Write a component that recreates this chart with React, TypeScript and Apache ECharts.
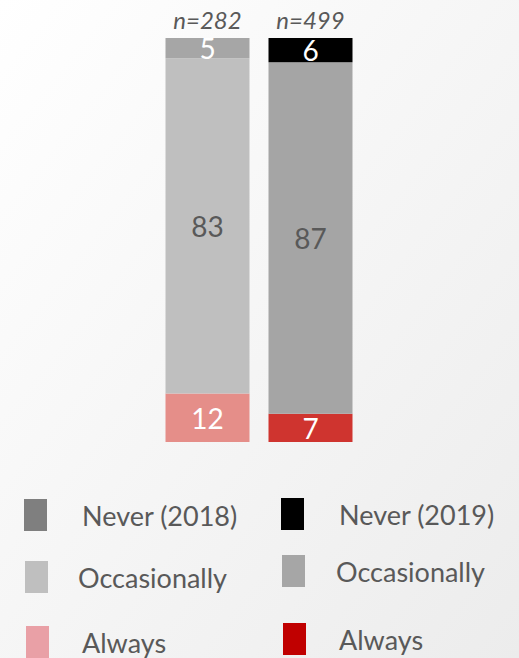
import React, { useEffect, useRef } from "react";
import * as echarts from "echarts";

const categories = ["2018", "2019"];
const nLabels = ["n=282", "n=499"];
const alwaysValues = [12, 7];
const occasionallyValues = [83, 87];
const neverValues = [5, 6];

const legendNames2018 = ["Never (2018)", "Occasionally (2018)", "Always (2018)"];
const legendNames2019 = ["Never (2019)", "Occasionally (2019)", "Always (2019)"];

const FONT = "Lato, 'Open Sans', sans-serif";
const TEXT = "#595959";

export default function App() {
  const ref = useRef<HTMLDivElement>(null);
  useEffect(() => {
    if (!ref.current) return;
    const chart = echarts.init(ref.current, null, { renderer: "svg" });

    const barColors = {
      "2018": { never: "#a6a6a6", occ: "#bfbfbf", always: "#e58e89" },
      "2019": { never: "#000000", occ: "#a5a5a5", always: "#cf342f" },
    } as any;
    const legendColors = {
      "2018": { never: "#7f7f7f", occ: "#bfbfbf", always: "#e9a0a6" },
      "2019": { never: "#000000", occ: "#a6a6a6", always: "#c00000" },
    } as any;

    const label = (color: string) => ({
      show: true,
      position: "inside",
      color,
      fontFamily: FONT,
      fontSize: 28,
      formatter: (p: any) => String(p.value),
    });

    const series: any[] = [];
    categories.forEach((cat, ci) => {
      const pick = (arr: number[]) => categories.map((_, i) => (i === ci ? arr[i] : "-"));
      const names = ci === 0 ? legendNames2018 : legendNames2019;
      series.push({
        name: names[2],
        type: "bar",
        stack: "all",
        barWidth: 84,
        data: pick(alwaysValues),
        itemStyle: { color: barColors[cat].always },
        label: label("#ffffff"),
      });
      series.push({
        name: names[1],
        type: "bar",
        stack: "all",
        barWidth: 84,
        data: pick(occasionallyValues),
        itemStyle: { color: barColors[cat].occ },
        label: label(TEXT),
      });
      series.push({
        name: names[0],
        type: "bar",
        stack: "all",
        barWidth: 84,
        data: pick(neverValues),
        itemStyle: { color: barColors[cat].never },
        label: label("#ffffff"),
      });
    });

    const legendFormatter = (name: string) =>
      name.startsWith("Never") ? name : name.replace(/ \(\d+\)$/, "");

    const legendPos = [
      { name: legendNames2018[0], left: 24, top: 499, pad: 30, color: legendColors["2018"].never },
      { name: legendNames2018[1], left: 25, top: 561, pad: 25, color: legendColors["2018"].occ },
      { name: legendNames2018[2], left: 26, top: 626, pad: 28, color: legendColors["2018"].always },
      { name: legendNames2019[0], left: 281, top: 498, pad: 30, color: legendColors["2019"].never },
      { name: legendNames2019[1], left: 282, top: 555, pad: 26, color: legendColors["2019"].occ },
      { name: legendNames2019[2], left: 283, top: 623, pad: 28, color: legendColors["2019"].always },
    ];

    const legend = legendPos.map((l) => ({
      left: l.left,
      top: l.top,
      padding: 0,
      itemWidth: 23,
      itemHeight: 32,
      icon: "rect",
      selectedMode: false,
      formatter: legendFormatter,
      textStyle: {
        color: TEXT,
        fontFamily: FONT,
        fontSize: 27,
        padding: [0, 0, 0, l.pad],
      },
      data: [{ name: l.name, icon: "rect", itemStyle: { color: l.color } }],
    }));

    chart.setOption({
      animation: false,
      backgroundColor: {
        type: "linear",
        x: 0,
        y: 0,
        x2: 1,
        y2: 1,
        colorStops: [
          { offset: 0, color: "#ffffff" },
          { offset: 1, color: "#ececec" },
        ],
      },
      grid: { left: 156, width: 206, top: 38, height: 404 },
      xAxis: {
        type: "category",
        position: "top",
        data: categories,
        axisLine: { show: false },
        axisTick: { show: false },
        axisLabel: {
          margin: 7,
          color: TEXT,
          fontFamily: FONT,
          fontStyle: "italic",
          fontSize: 24,
          formatter: (_v: string, i: number) => nLabels[i],
        },
      },
      yAxis: {
        type: "value",
        min: 0,
        max: 100,
        show: false,
        splitLine: { show: false },
      },
      legend,
      series,
    });

    return () => chart.dispose();
  }, []);

  return (
    <div
      ref={ref}
      style={{ position: "absolute", left: 0, top: 0, width: 519, height: 658 }}
    />
  );
}
